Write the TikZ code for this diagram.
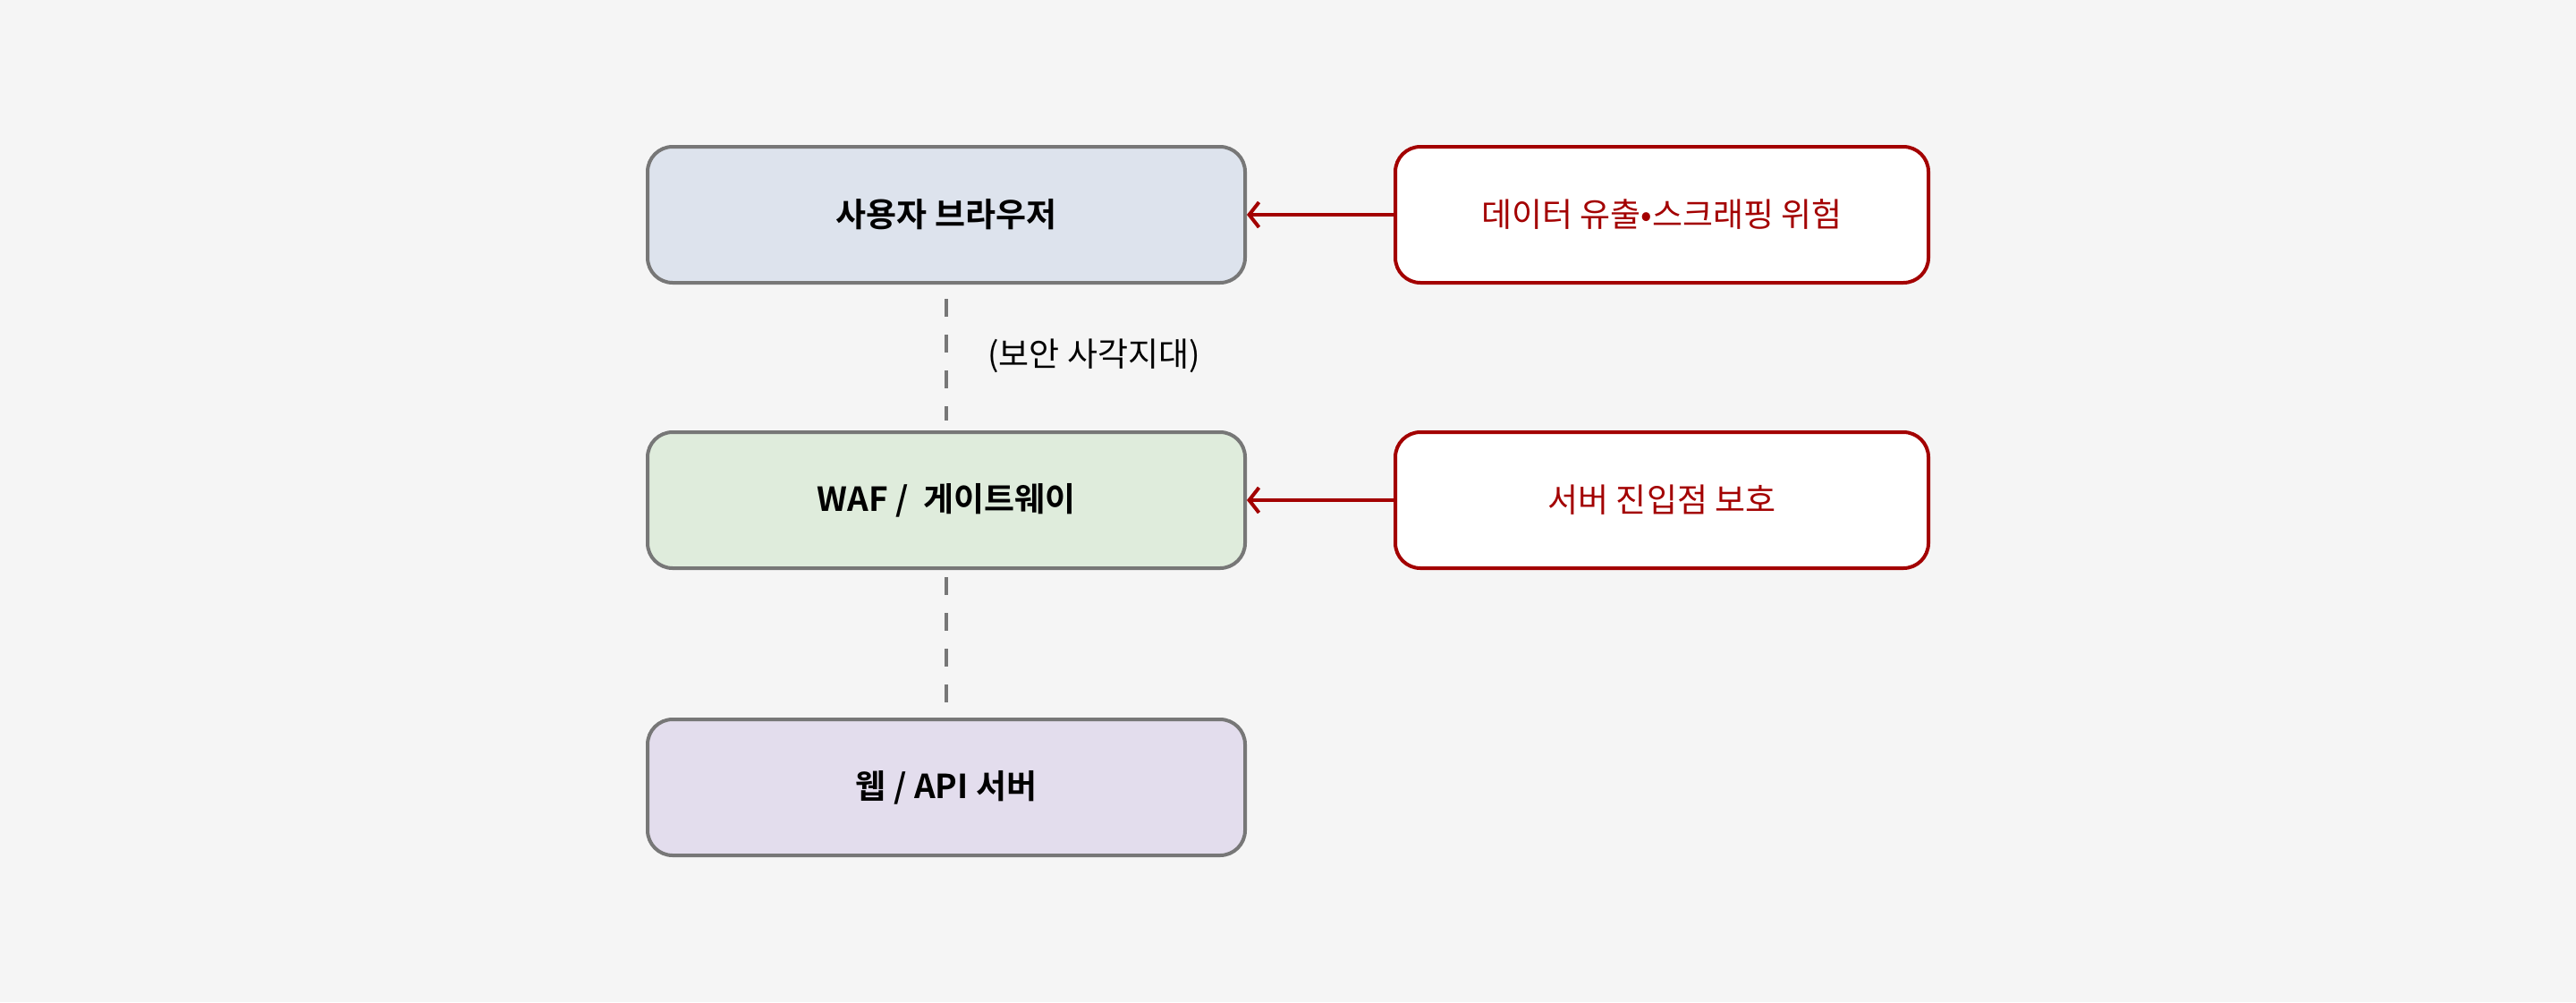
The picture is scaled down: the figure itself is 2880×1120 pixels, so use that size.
\documentclass[tikz,border=0pt]{standalone}
\usepackage{fontspec}
\setmainfont{Noto Sans CJK KR}[BoldFont={* Bold}]
\usetikzlibrary{arrows.meta}
\definecolor{bg}{HTML}{F5F5F5}
\definecolor{edgegray}{HTML}{777777}
\definecolor{riskred}{HTML}{A30000}
\definecolor{fillblue}{HTML}{DDE3ED}
\definecolor{fillgreen}{HTML}{DFECDC}
\definecolor{fillpurple}{HTML}{E3DDED}
\tikzset{
  layerbox/.style={draw=edgegray, line width=4pt, rounded corners=28pt,
    minimum width=668pt, minimum height=152pt, inner sep=0pt,
    font=\fontsize{37}{44}\selectfont\bfseries, text=black},
  riskbox/.style={draw=riskred, fill=white, line width=4pt, rounded corners=28pt,
    minimum width=596pt, minimum height=152pt, inner sep=0pt,
    font=\fontsize{37}{44}\selectfont, text=riskred},
  riskarrow/.style={draw=riskred, line width=4pt,
    -{Straight Barb[length=11pt, width=28pt, line width=4pt]}},
  zoneline/.style={draw=edgegray, line width=4pt, dash pattern=on 20pt off 20pt},
  zonelabel/.style={font=\fontsize{37}{44}\selectfont, text=black, anchor=west, inner sep=0pt}
}
\begin{document}
\begin{tikzpicture}[x=1pt, y=-1pt]
\fill[bg] (0,0) rectangle (2880,1120);
\useasboundingbox (0,0) rectangle (2880,1120);

\node[layerbox, fill=fillblue] (browser) at (1058,240) {사용자 브라우저};
\node[layerbox, fill=fillgreen] (waf) at (1058,559) {WAF /\ \ 게이트웨이};
\node[layerbox, fill=fillpurple] (server) at (1058,880) {웹 / API 서버};

\node[riskbox] (leak) at (1858,240) {데이터 유출•스크래핑 위험};
\node[riskbox] (entry) at (1858,559) {서버 진입점 보호};

\draw[riskarrow] (leak.west) -- (browser.east);
\draw[riskarrow] (entry.west) -- (waf.east);

\draw[zoneline, shorten <=16pt, shorten >=11pt] (browser.south) -- (waf.north);
\draw[zoneline, shorten <=8pt, shorten >=11pt] (waf.south) -- (server.north);

\node[zonelabel] (blind) at (1104,398) {(보안 사각지대)};
\end{tikzpicture}
\end{document}
